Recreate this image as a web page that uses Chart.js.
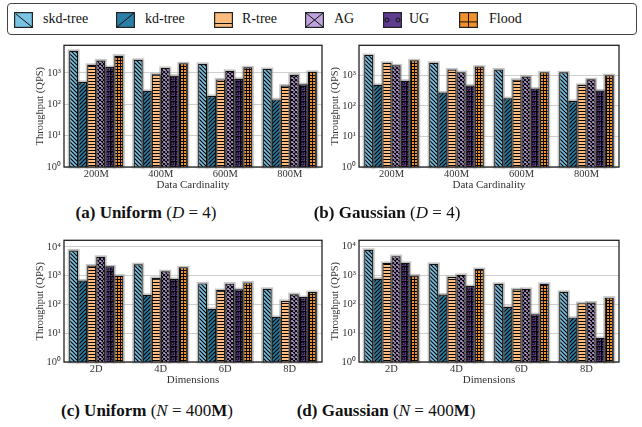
<!DOCTYPE html>
<html>
<head>
<meta charset="utf-8">
<script src="https://cdn.jsdelivr.net/npm/chart.js@4/dist/chart.umd.min.js"></script>
<style>
  html, body { margin: 0; padding: 0; background: #fff; }
  #fig { position: relative; width: 642px; height: 427px; overflow: hidden;
         font-family: 'Liberation Serif', 'Times New Roman', serif; color: #111; }
  canvas.panel { position: absolute; }
  #legend { position: absolute; left: 7px; top: 3px; width: 630px; height: 32px;
            border: 1.5px solid #444; border-radius: 4px; box-sizing: border-box; }
  .sw { position: absolute; top: 8px; }
  .lt { position: absolute; top: 0; height: 29px; line-height: 29px; font-size: 14px; white-space: nowrap; }
  .cap { position: absolute; font-size: 17px; white-space: nowrap; transform: translateX(-50%); }
  .cap b { font-weight: bold; }
</style>
</head>
<body>
<div id="fig">
  <div id="legend"></div>
  <canvas class="panel" id="pa"></canvas>
  <canvas class="panel" id="pb"></canvas>
  <canvas class="panel" id="pc"></canvas>
  <canvas class="panel" id="pd"></canvas>
  <div class="cap" style="left:146px;top:203px"><b>(a) Uniform</b> (<i>D</i> = 4)</div>
  <div class="cap" style="left:387px;top:203px"><b>(b) Gaussian</b> (<i>D</i> = 4)</div>
  <div class="cap" style="left:147px;top:401px"><b>(c) Uniform</b> (<i>N</i> = 400<b>M</b>)</div>
  <div class="cap" style="left:386px;top:401px"><b>(d) Gaussian</b> (<i>N</i> = 400<b>M</b>)</div>
</div>
<script>
// ---- data -------------------------------------------------------------
const methods = ['skd-tree', 'kd-tree', 'R-tree', 'AG', 'UG', 'Flood'];
const cardinalities = ['200M', '400M', '600M', '800M'];
const dimensions = ['2D', '4D', '6D', '8D'];
const yTickValues = [1, 10, 100, 1000, 10000];

// throughput (QPS), one row per method in the order of `methods`
const uniformD4 = [
  [5000, 2580, 1920, 1320],
  [510, 265, 183, 142],
  [1790, 890, 615, 395],
  [2470, 1420, 1150, 870],
  [1520, 810, 645, 430],
  [3500, 2000, 1490, 1070]
];
const gaussianD4 = [
  [4540, 2540, 1540, 1240],
  [485, 273, 178, 144],
  [2540, 1540, 715, 485],
  [2100, 1260, 910, 735],
  [660, 465, 365, 316],
  [3060, 1910, 1240, 1000]
];
const uniformN400M = [
  [7500, 2510, 540, 350],
  [680, 215, 70, 37],
  [2270, 835, 316, 133],
  [4540, 1430, 530, 228],
  [2110, 775, 340, 180],
  [1000, 1950, 585, 270]
];
const gaussianN400M = [
  [7500, 2450, 500, 265],
  [755, 215, 80, 34],
  [2650, 860, 324, 108],
  [4540, 1020, 335, 114],
  [2650, 420, 45, 6.8],
  [980, 1630, 500, 167]
];

// ---- styling ------------------------------------------------------------
const FONT = "'Liberation Serif', 'Times New Roman', serif";
const fills = ['#79c3e4', '#2b7fa6', '#fdbb7e', '#c0a3dc', '#5e3c8f', '#f0912e'];
const HATCH = '#000';

function tile(size, color, draw, lw) {
  const c = document.createElement('canvas');
  c.width = size; c.height = size;
  const g = c.getContext('2d');
  g.fillStyle = color; g.fillRect(0, 0, size, size);
  g.strokeStyle = HATCH; g.fillStyle = HATCH; g.lineWidth = lw;
  g.beginPath(); draw(g, size); g.stroke();
  return g.createPattern(c, 'repeat');
}
const hatchers = [
  (g, s) => { g.moveTo(0, 0); g.lineTo(s, s); g.moveTo(-1, s - 1); g.lineTo(1, s + 1); g.moveTo(s - 1, -1); g.lineTo(s + 1, 1); },
  (g, s) => { g.moveTo(0, s); g.lineTo(s, 0); g.moveTo(-1, 1); g.lineTo(1, -1); g.moveTo(s - 1, s + 1); g.lineTo(s + 1, s - 1); },
  (g, s) => { g.moveTo(0, 0.5); g.lineTo(s, 0.5); },
  (g, s) => { g.moveTo(0, 0); g.lineTo(s, s); g.moveTo(0, s); g.lineTo(s, 0); },
  (g, s) => { g.moveTo(s / 2 + 1.4, s / 2); g.arc(s / 2, s / 2, 1.4, 0, Math.PI * 2); g.moveTo(0, 0.5); g.lineTo(s, 0.5); g.moveTo(0.5, 0); g.lineTo(0.5, s); },
  (g, s) => { g.moveTo(0, 0.5); g.lineTo(s, 0.5); g.moveTo(0.5, 0); g.lineTo(0.5, s); }
];
const tileSizes = [4, 4, 3, 4, 5, 3];
const tileWidths = [1.2, 1.2, 1, 1.1, 1, 1];
const patterns = fills.map((f, i) => tile(tileSizes[i], f, hatchers[i], tileWidths[i]));

// ---- legend ---------------------------------------------------------------
const swatchX = [6, 108, 206, 297, 375, 451];
const labelX = [35, 137, 234, 326, 401, 481];
const legendMarks = [
  (g, w, h) => { g.moveTo(2, 2); g.lineTo(w - 1, h - 1); },
  (g, w, h) => { g.moveTo(1, h - 1); g.lineTo(w - 1, 1); },
  (g, w, h) => { g.moveTo(1, h - 4.5); g.lineTo(w - 1, h - 4.5); },
  (g, w, h) => { g.moveTo(1, 1); g.lineTo(w - 1, h - 1); g.moveTo(1, h - 1); g.lineTo(w - 1, 1); },
  (g, w, h) => { g.moveTo(6, h / 2); g.arc(4, h / 2, 2, 0, Math.PI * 2); g.moveTo(w - 2, h / 2); g.arc(w - 4, h / 2, 2, 0, Math.PI * 2); },
  (g, w, h) => { g.moveTo(w / 2, 1); g.lineTo(w / 2, h - 1); g.moveTo(1, h * 0.62); g.lineTo(w - 1, h * 0.62); }
];
const legend = document.getElementById('legend');
methods.forEach((m, i) => {
  const c = document.createElement('canvas');
  c.width = 19; c.height = 16; c.className = 'sw';
  c.style.left = swatchX[i] + 'px';
  const g = c.getContext('2d');
  g.fillStyle = fills[i]; g.fillRect(0, 0, 19, 16);
  g.strokeStyle = '#111'; g.lineWidth = 1;
  g.beginPath(); legendMarks[i](g, 19, 16); g.stroke();
  g.strokeStyle = '#222'; g.lineWidth = 1.2; g.strokeRect(0.6, 0.6, 17.8, 14.8);
  legend.appendChild(c);
  const t = document.createElement('div');
  t.className = 'lt'; t.textContent = m; t.style.left = labelX[i] + 'px';
  legend.appendChild(t);
});

// ---- panels ---------------------------------------------------------------
const SUP = ['\u2070', '\u00b9', '\u00b2', '\u00b3', '\u2074'];

// light halo behind each bar, then a frame around the plotting area
const frame = {
  id: 'frame',
  beforeDatasetsDraw(chart) {
    const ctx = chart.ctx;
    ctx.save();
    ctx.strokeStyle = 'rgba(150,150,150,0.55)';
    ctx.lineWidth = 3;
    chart.data.datasets.forEach((d, i) => {
      chart.getDatasetMeta(i).data.forEach(el => {
        const p = el.getProps(['x', 'y', 'base', 'width'], true);
        ctx.strokeRect(p.x - p.width / 2, p.y, p.width, p.base - p.y);
      });
    });
    ctx.restore();
  },
  afterDatasetsDraw(chart) {
    const a = chart.chartArea, ctx = chart.ctx;
    ctx.save();
    ctx.strokeStyle = '#222'; ctx.lineWidth = 1.3;
    ctx.strokeRect(a.left, a.top, a.right - a.left, a.bottom - a.top);
    ctx.restore();
  }
};

function panel(id, box, labels, rows, xTitle, yMax) {
  const cv = document.getElementById(id);
  cv.width = box.w; cv.height = box.h;
  cv.style.left = box.x + 'px'; cv.style.top = box.y + 'px';
  new Chart(cv, {
    type: 'bar',
    data: {
      labels: labels,
      datasets: methods.map((m, i) => ({
        label: m,
        data: rows[i],
        backgroundColor: patterns[i],
        borderColor: '#111',
        borderWidth: 1.2,
        categoryPercentage: 0.84,
        barPercentage: 1.0
      }))
    },
    options: {
      responsive: false,
      animation: false,
      devicePixelRatio: 1,
      layout: { padding: { left: box.padL, right: box.padR, top: box.padT, bottom: 0 } },
      plugins: { legend: { display: false }, tooltip: { enabled: false } },
      scales: {
        x: {
          grid: { display: false, drawTicks: false },
          border: { display: false },
          ticks: { font: { family: FONT, size: 10.5 }, color: '#333', padding: 1, maxRotation: 0 },
          title: { display: true, text: xTitle, font: { family: FONT, size: 11 }, color: '#333', padding: 0 },
          afterFit: s => { s.height = box.xH; }
        },
        y: {
          type: 'logarithmic',
          min: 1,
          max: yMax,
          grid: { color: '#cfcfcf', lineWidth: 1, drawTicks: false },
          border: { display: false },
          afterBuildTicks: s => { s.ticks = yTickValues.filter(v => v <= yMax).map(v => ({ value: v, major: true })); },
          ticks: {
            font: { family: FONT, size: 10.5 }, color: '#333', padding: 3,
            callback: v => '10' + SUP[Math.round(Math.log10(v))]
          },
          title: { display: true, text: 'Throughput (QPS)', font: { family: FONT, size: 10.5 }, color: '#333', padding: 0 },
          afterFit: s => { s.width = box.yW; }
        }
      }
    },
    plugins: [frame]
  });
}

panel('pa', { x: 0, y: 36, w: 330, h: 156, padL: 34, yW: 30, padR: 8, padT: 4, xH: 25 },
      cardinalities, uniformD4, 'Data Cardinality', 7500);
panel('pb', { x: 321, y: 36, w: 321, h: 156, padL: 8, yW: 30, padR: 23, padT: 4, xH: 25 },
      cardinalities, gaussianD4, 'Data Cardinality', 9500);
panel('pc', { x: 0, y: 231, w: 330, h: 156, padL: 34, yW: 30, padR: 8, padT: 4, xH: 25 },
      dimensions, uniformN400M, 'Dimensions', 17000);
panel('pd', { x: 321, y: 231, w: 321, h: 156, padL: 8, yW: 30, padR: 23, padT: 5, xH: 25 },
      dimensions, gaussianN400M, 'Dimensions', 16000);
</script>
</body>
</html>
